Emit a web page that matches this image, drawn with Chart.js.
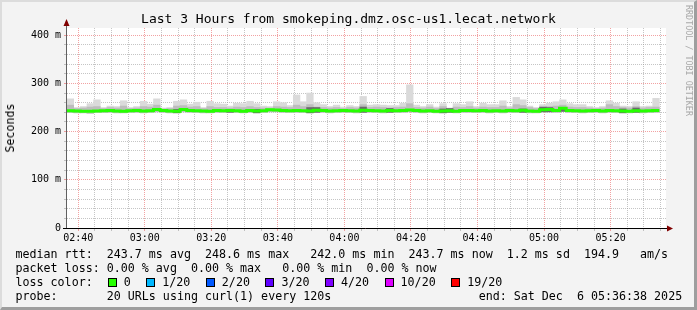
<!DOCTYPE html>
<html>
<head>
<meta charset="utf-8">
<script src="https://cdn.jsdelivr.net/npm/chart.js@4.4.1/dist/chart.umd.min.js"></script>
<style>
  html, body { margin: 0; padding: 0; }
  body {
    width: 697px; height: 310px; position: relative; overflow: hidden;
    background: #f3f3f3; color: #000;
    font-family: 'DejaVu Sans Mono', monospace;
  }
  canvas { position: absolute; left: 0; top: 0; }
  #frame {
    position: absolute; left: 0; top: 0; width: 697px; height: 310px; box-sizing: border-box;
    border-top: 2px solid #dcdcdc; border-left: 2px solid #dcdcdc;
    border-right: 3px solid #9e9e9e; border-bottom: 3px solid #9e9e9e;
    pointer-events: none;
  }
  #title { position: absolute; top: 11px; left: 0; width: 697px; text-align: center; font-size: 13px; }
  #ylabel {
    position: absolute; left: 10px; top: 128px; font-size: 11.66px; white-space: nowrap;
    transform: translate(-50%, -50%) rotate(-90deg);
  }
  #watermark {
    position: absolute; left: 684px; top: 5px; writing-mode: vertical-rl;
    font-size: 8.4px; color: #a8a8a8; white-space: nowrap;
  }
  #legend { position: absolute; left: 15.5px; top: 247px; font-size: 11.66px; line-height: 14px; white-space: pre; }
  .sw { display: inline-block; width: 7px; height: 7px; border: 1px solid #000; margin: 0 7px 0 1px; vertical-align: -1px; }
  .lab { margin-right: 14.5px; }
</style>
</head>
<body>
<canvas id="chart" width="697" height="310"></canvas>
<div id="title">Last 3 Hours from smokeping.dmz.osc-us1.lecat.network</div>
<div id="ylabel">Seconds</div>
<div id="watermark">RRDTOOL / TOBI OETIKER</div>
<div id="legend"></div>
<div id="frame"></div>
<script>
// ── Données ──

const startTime = '02:36:38';
const spanSec = 3 * 3600;
const stepSec = 120;

const xTickLabels = ['02:40', '03:00', '03:20', '03:40', '04:00', '04:20', '04:40', '05:00', '05:20'];
const yTickValues = [0, 100, 200, 300, 400];
const yTickLabels = ['0', '100 m', '200 m', '300 m', '400 m'];

// smoke (ms), one value per 2 min slot
const smokeMax = [
  268, 250, 252, 258, 266, 250, 253, 252, 264, 250, 252, 263, 257, 268, 249, 250, 263, 266, 257, 261,
  250, 263, 258, 257, 253, 259, 258, 263, 258, 253,
  252, 262, 260, 254, 276, 262, 280, 260, 256, 252, 255, 251, 254, 252, 273, 255, 256, 255, 254, 254,
  259, 297, 255, 252, 256, 251, 258, 249, 258, 256,
  262, 252, 259, 256, 256, 264, 252, 271, 266, 253, 250, 256, 259, 262, 266, 258, 256, 256, 252, 250,
  252, 264, 259, 253, 252, 262, 252, 253, 269
];
const smokeMid = [
  255, 248, 249, 251, 252, 248, 250, 249, 253, 248, 249, 252, 251, 255, 247, 248, 253, 254, 251, 252,
  248, 252, 250, 250, 249, 251, 250, 252, 250, 249,
  249, 252, 251, 250, 255, 252, 256, 251, 250, 249, 250, 248, 250, 249, 256, 250, 251, 250, 249, 250,
  251, 258, 250, 249, 251, 248, 252, 247, 251, 250,
  252, 249, 251, 250, 250, 253, 249, 256, 254, 250, 248, 250, 252, 253, 255, 251, 250, 250, 249, 248,
  249, 256, 252, 250, 249, 252, 249, 250, 251
];
const smokeMin = [
  240, 239, 239, 238, 240, 240, 240, 239, 239, 240, 240, 239, 240, 241, 240, 239, 239, 241, 240, 240,
  239, 239, 240, 240, 240, 240, 239, 240, 239, 240,
  241, 241, 240, 240, 240, 240, 239, 240, 240, 239, 240, 240, 240, 239, 240, 240, 240, 239, 240, 240,
  240, 241, 240, 239, 240, 239, 239, 240, 239, 240,
  240, 240, 240, 239, 240, 239, 240, 240, 240, 239, 239, 241, 241, 240, 242, 240, 240, 239, 240, 240,
  239, 240, 240, 239, 239, 240, 239, 240, 240
];
const smokeDark = [
  null, null, null, null, null, null, null, null, null, null, null, null, null, null, null, null, 246, null, null, null,
  null, null, null, null, 246, null, null, null, 246, null,
  null, null, null, null, null, null, 250, 250, null, null, null, null, null, null, 251, null, null, null, 248, null,
  null, null, null, null, null, null, 247, 248, null, null,
  null, null, null, null, null, null, null, null, 247, null, null, 251, 250, null, 250, null, null, null, null, null,
  null, null, null, 247, null, 249, null, null, null
];
const medianRtt = [
  243.5, 243, 242.5, 242, 243, 243.5, 244, 243, 242.5, 243.5, 244, 243, 243.5, 246, 244, 243, 242.5, 246, 244, 243.5,
  243, 242.5, 244, 243.5, 244, 243.5, 242.5, 244, 243, 243.5,
  245.5, 245, 244, 243.5, 244, 243.5, 243, 244.5, 244, 243, 243.5, 244, 243.5, 243, 244.5, 244, 243.5, 243, 244, 243.5,
  244, 245, 244, 243, 243.5, 242.5, 243, 243.5, 242.5, 244,
  244, 243.5, 244, 243, 243.5, 243, 244, 243.5, 244.5, 243, 242.5, 245.5, 246, 244, 248.6, 244, 243.5, 243, 243.5, 244,
  243, 244, 243.5, 243, 242.5, 243.5, 243, 243.5, 243.7
];

const lossLabels = ['0', '1/20', '2/20', '3/20', '4/20', '10/20', '19/20'];
const lossColors = ['#26ff00', '#00b8ff', '#0059ff', '#5e00ff', '#7e00ff', '#dd00ff', '#ff0000'];

const legendLines = [
  'median rtt:  243.7 ms avg  248.6 ms max   242.0 ms min  243.7 ms now  1.2 ms sd  194.9   am/s',
  'packet loss: 0.00 % avg  0.00 % max   0.00 % min  0.00 % now',
];
const probeText = 'probe:       20 URLs using curl(1) every 120s';
const endText = 'end: Sat Dec  6 05:36:38 2025';

// ── Légende ──

const legend = document.getElementById('legend');
let html = legendLines.join('\n') + '\n' + 'loss color:  ';
lossLabels.forEach((l, i) => {
  html += `<span class="sw" style="background:${lossColors[i]}"></span><span class="lab">${l}</span>`;
});
html += '\n' + probeText.padEnd(66, ' ') + endText;
legend.innerHTML = html;

// ── Graphique ──

function toSec(s) {
  const p = s.split(':').map(Number);
  return p[0] * 3600 + p[1] * 60 + (p[2] || 0);
}
const t0 = toSec(startTime);
const xMajor = xTickLabels.map(l => toSec(l) - t0);
const xMinor = [];
for (let t = xMajor[0] % 300; t <= spanSec; t += 300) xMinor.push(t);

const center = i => i * stepSec + stepSec / 2;
const GRID = 'rgba(150,150,150,0.55)';
const MGRID = 'rgba(230,70,70,0.5)';

const axesPlugin = {
  id: 'rrdAxes',
  beforeDraw(chart) {
    const { ctx, chartArea: a } = chart;
    ctx.save();
    ctx.fillStyle = '#ffffff';
    ctx.fillRect(a.left, a.top, a.right - a.left, a.bottom - a.top);
    ctx.restore();
  },
  afterDraw(chart) {
    const { ctx, chartArea: a } = chart;
    ctx.save();
    // axe y
    ctx.strokeStyle = '#606060';
    ctx.lineWidth = 1;
    ctx.beginPath();
    ctx.moveTo(a.left - 0.5, a.bottom);
    ctx.lineTo(a.left - 0.5, a.top - 6);
    ctx.stroke();
    // axe x
    ctx.strokeStyle = '#000';
    ctx.beginPath();
    ctx.moveTo(a.left - 4, a.bottom + 0.5);
    ctx.lineTo(a.right + 2, a.bottom + 0.5);
    ctx.stroke();
    // flèches
    ctx.fillStyle = '#800000';
    ctx.beginPath();
    ctx.moveTo(a.left - 0.5, a.top - 9);
    ctx.lineTo(a.left - 3.5, a.top - 2);
    ctx.lineTo(a.left + 2.5, a.top - 2);
    ctx.closePath();
    ctx.fill();
    ctx.beginPath();
    ctx.moveTo(a.right + 7, a.bottom + 0.5);
    ctx.lineTo(a.right + 1, a.bottom - 2.5);
    ctx.lineTo(a.right + 1, a.bottom + 3.5);
    ctx.closePath();
    ctx.fill();
    ctx.restore();
  }
};

const barBase = { type: 'bar', grouped: false, barPercentage: 1, categoryPercentage: 1, borderWidth: 0 };

new Chart(document.getElementById('chart'), {
  type: 'bar',
  data: {
    datasets: [
      {
        type: 'line', order: 0,
        data: medianRtt.map((v, i) => ({ x: i * stepSec, y: v }))
          .concat([{ x: medianRtt.length * stepSec, y: medianRtt[medianRtt.length - 1] }]),
        borderColor: lossColors[0], borderWidth: 3, pointRadius: 0, stepped: 'before',
        borderCapStyle: 'butt', borderJoinStyle: 'miter', fill: false,
      },
      {
        ...barBase, order: 1, backgroundColor: '#6a6a6a',
        data: smokeDark.map((v, i) => ({ x: center(i), y: v === null ? null : [smokeMin[i], v] })),
      },
      {
        ...barBase, order: 2, backgroundColor: '#bdbdbd',
        data: smokeMid.map((v, i) => ({ x: center(i), y: [smokeMin[i], v] })),
      },
      {
        ...barBase, order: 3, backgroundColor: '#dadada',
        data: smokeMax.map((v, i) => ({ x: center(i), y: [smokeMin[i], v] })),
      },
    ],
  },
  options: {
    responsive: false, animation: false,
    layout: { padding: { left: 0, right: 31, top: 28, bottom: 0 } },
    plugins: { legend: { display: false }, tooltip: { enabled: false } },
    scales: {
      x: {
        type: 'linear', min: 0, max: spanSec, offset: false,
        afterFit(s) { s.height = 82; },
        afterBuildTicks(s) { s.ticks = xMinor.map(v => ({ value: v })); },
        grid: {
          offset: false, tickLength: 3, lineWidth: 1,
          color: c => (c.tick && xMajor.includes(c.tick.value) ? MGRID : GRID),
        },
        border: { display: false, dash: [1, 1] },
        ticks: {
          autoSkip: false, maxRotation: 0, padding: 1, color: '#000',
          font: { family: 'DejaVu Sans Mono', size: 10 },
          callback: v => { const k = xMajor.indexOf(v); return k >= 0 ? xTickLabels[k] : ''; },
        },
      },
      y: {
        min: 0, max: 415,
        afterFit(s) { s.width = 67; },
        afterBuildTicks(s) {
          const t = [];
          for (let v = 0; v <= 400; v += 20) t.push({ value: v });
          s.ticks = t;
        },
        grid: {
          tickLength: 3, lineWidth: 1,
          color: c => (c.tick && c.tick.value % 100 === 0 ? MGRID : GRID),
        },
        border: { display: false, dash: [1, 1] },
        ticks: {
          autoSkip: false, padding: 3, color: '#000',
          font: { family: 'DejaVu Sans Mono', size: 10 },
          callback: v => { const k = yTickValues.indexOf(v); return k >= 0 ? yTickLabels[k] : ''; },
        },
      },
    },
  },
  plugins: [axesPlugin],
});
</script>
</body>
</html>
